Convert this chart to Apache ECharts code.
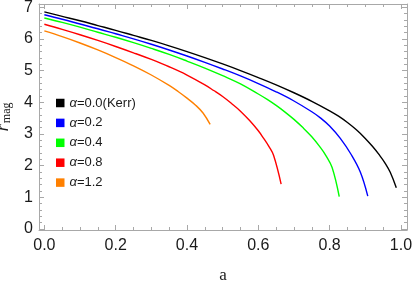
<!DOCTYPE html>
<html><head><meta charset="utf-8">
<script src="https://cdn.jsdelivr.net/npm/echarts@6/dist/echarts.min.js"></script>
<style>html,body{margin:0;padding:0;background:#fff}#c{width:415px;height:281px}</style>
</head><body><div id="c"></div>
<script>
// ---- data ----
const seriesNames = ['α=0.0(Kerr)', 'α=0.2', 'α=0.4', 'α=0.8', 'α=1.2'];
const aKerr = [0, 0.05, 0.1, 0.15, 0.2, 0.25, 0.3, 0.35, 0.4, 0.45, 0.5, 0.55, 0.6, 0.65, 0.7, 0.75, 0.8, 0.825, 0.85, 0.875, 0.9, 0.92, 0.94, 0.955, 0.97, 0.987];
const rKerr = [6.85, 6.71, 6.57, 6.42, 6.27, 6.11, 5.95, 5.78, 5.60, 5.41, 5.21, 5.00, 4.78, 4.55, 4.30, 4.03, 3.73, 3.56, 3.36, 3.13, 2.86, 2.61, 2.33, 2.09, 1.79, 1.30];
const a02 = [0, 0.05, 0.1, 0.15, 0.2, 0.25, 0.3, 0.35, 0.4, 0.45, 0.5, 0.55, 0.6, 0.65, 0.7, 0.75, 0.775, 0.8, 0.83, 0.86, 0.886, 0.907];
const r02 = [6.76, 6.62, 6.47, 6.32, 6.16, 6.00, 5.83, 5.65, 5.46, 5.26, 5.05, 4.83, 4.59, 4.33, 4.04, 3.70, 3.50, 3.25, 2.86, 2.36, 1.80, 1.04];
const a04 = [0, 0.05, 0.1, 0.15, 0.2, 0.25, 0.3, 0.35, 0.4, 0.45, 0.5, 0.55, 0.6, 0.625, 0.65, 0.675, 0.7, 0.725, 0.75, 0.775, 0.79, 0.807, 0.827];
const r04 = [6.66, 6.52, 6.37, 6.21, 6.05, 5.88, 5.70, 5.51, 5.30, 5.08, 4.84, 4.58, 4.26, 4.09, 3.90, 3.69, 3.46, 3.20, 2.91, 2.56, 2.31, 1.94, 1.02];
const a08 = [0, 0.05, 0.1, 0.15, 0.2, 0.25, 0.3, 0.35, 0.4, 0.45, 0.475, 0.5, 0.525, 0.55, 0.575, 0.6, 0.615, 0.63, 0.643, 0.664];
const r08 = [6.46, 6.30, 6.13, 5.95, 5.76, 5.56, 5.35, 5.12, 4.86, 4.55, 4.37, 4.18, 3.96, 3.72, 3.43, 3.10, 2.86, 2.60, 2.32, 1.42];
const a12 = [0, 0.05, 0.1, 0.15, 0.2, 0.25, 0.3, 0.35, 0.375, 0.4, 0.425, 0.445, 0.465];
const r12 = [6.25, 6.07, 5.87, 5.65, 5.41, 5.15, 4.86, 4.53, 4.34, 4.13, 3.90, 3.66, 3.30];
const xMajor = [0, 0.2, 0.4, 0.6, 0.8, 1.0];
const xMinor = [0.05, 0.1, 0.15, 0.25, 0.3, 0.35, 0.45, 0.5, 0.55, 0.65, 0.7, 0.75, 0.85, 0.9, 0.95];
const yMajor = [0, 1, 2, 3, 4, 5, 6, 7];
const yMinor = [0.2, 0.4, 0.6, 0.8, 1.2, 1.4, 1.6, 1.8, 2.2, 2.4, 2.6, 2.8, 3.2, 3.4, 3.6, 3.8, 4.2, 4.4, 4.6, 4.8, 5.2, 5.4, 5.6, 5.8, 6.2, 6.4, 6.6, 6.8];
const colors = ['#000000', '#0000ff', '#00ff00', '#ff0000', '#ff8000'];
const xs = [aKerr, a02, a04, a08, a12];
const ys = [rKerr, r02, r04, r08, r12];

const X_MIN = -0.015, X_MAX = 1.017, Y_MIN = -0.03, Y_MAX = 7.1;
const frameColor = '#a8a8a8';
const labelFont = { fontFamily: 'Liberation Sans', fontSize: 16, color: '#1a1a1a' };

function xAx(position, ticks, len, withLine, withLabels) {
  return {
    type: 'value', position: position, min: X_MIN, max: X_MAX,
    axisLine: { show: withLine, onZero: false, lineStyle: { color: frameColor, width: 1 } },
    axisTick: { show: true, inside: true, length: len, customValues: ticks, lineStyle: { color: frameColor, width: 1 } },
    axisLabel: withLabels ? Object.assign({ show: true, customValues: xMajor, margin: 8, formatter: v => v.toFixed(1) }, labelFont) : { show: false },
    splitLine: { show: false }
  };
}
function yAx(position, ticks, len, withLine, withLabels) {
  return {
    type: 'value', position: position, min: Y_MIN, max: Y_MAX,
    axisLine: { show: withLine, onZero: false, lineStyle: { color: frameColor, width: 1 } },
    axisTick: { show: true, inside: true, length: len, customValues: ticks, lineStyle: { color: frameColor, width: 1 } },
    axisLabel: withLabels ? Object.assign({ show: true, customValues: yMajor, margin: 6, formatter: v => String(Math.round(v)) }, labelFont) : { show: false },
    splitLine: { show: false }
  };
}

const xAxes = [xAx('bottom', xMajor, 5, true, true), xAx('bottom', xMinor, 3, false, false), xAx('top', xMajor, 5, true, false), xAx('top', xMinor, 3, false, false)];
xAxes[0].name = 'a';
xAxes[0].nameLocation = 'middle';
xAxes[0].nameGap = 37;
xAxes[0].nameTextStyle = { fontFamily: 'Liberation Serif', fontSize: 17, color: '#1a1a1a' };
const yAxes = [yAx('left', yMajor, 5, true, true), yAx('left', yMinor, 3, false, false), yAx('right', yMajor, 5, true, false), yAx('right', yMinor, 3, false, false)];
yAxes[0].name = '{r|r}{s|mag}';
yAxes[0].nameLocation = 'middle';
yAxes[0].nameRotate = 90;
yAxes[0].nameGap = 17;
yAxes[0].nameTextStyle = {
  color: '#1a1a1a',
  rich: {
    r: { fontFamily: 'Liberation Serif', fontStyle: 'italic', fontSize: 19, lineHeight: 20, color: '#1a1a1a' },
    s: { fontFamily: 'Liberation Serif', fontSize: 12, lineHeight: 12, padding: [9, 0, 0, 1], color: '#1a1a1a' }
  }
};

const chart = echarts.init(document.getElementById('c'), null, { renderer: 'canvas' });
chart.setOption({
  animation: false,
  backgroundColor: '#ffffff',
  grid: { left: 39, right: 8, top: 4, bottom: 51, containLabel: false, outerBoundsMode: 'none' },
  xAxis: xAxes,
  yAxis: yAxes,
  legend: {
    orient: 'vertical', left: 51, top: 91, itemGap: 5.9, itemWidth: 8.5, itemHeight: 8.5, icon: 'rect',
    data: seriesNames,
    formatter: name => '{i|α}' + name.slice(1),
    textStyle: {
      fontFamily: 'Liberation Sans', fontSize: 13, lineHeight: 14, color: '#1a1a1a',
      rich: { i: { fontFamily: 'Liberation Sans', fontStyle: 'italic', fontSize: 13, lineHeight: 14, color: '#1a1a1a' } }
    }
  },
  series: seriesNames.map((n, k) => ({
    name: n, type: 'line', xAxisIndex: 0, yAxisIndex: 0,
    showSymbol: false, symbol: 'none', smooth: 0.4,
    color: colors[k],
    lineStyle: { color: colors[k], width: 1.4 },
    data: xs[k].map((v, i) => [v, ys[k][i]])
  }))
});
</script></body></html>
